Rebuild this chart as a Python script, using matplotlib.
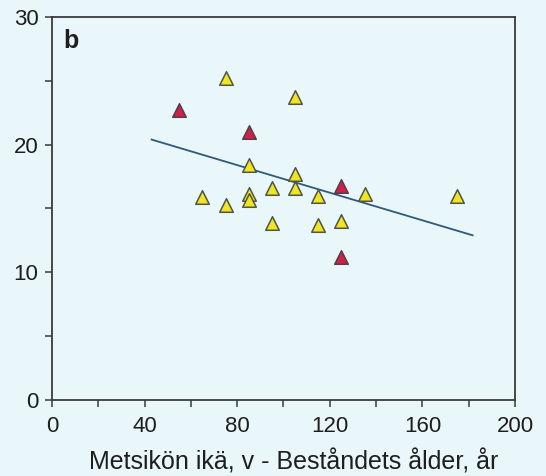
import matplotlib
matplotlib.use("Agg")
from matplotlib import pyplot as plt
import numpy as np

# Metsikön ikä (v) ja arvot, keltaiset kolmiot
ika_kelta = [75, 105, 85, 105, 95, 105, 65, 75, 85, 85, 115, 135, 175, 95, 115, 125]
arvo_kelta = [25.2, 23.7, 18.4, 17.7, 16.6, 16.6, 15.9, 15.3, 16.1, 15.7, 16.0, 16.1, 16.0, 13.9, 13.7, 14.0]

# punaiset kolmiot
ika_puna = [55, 85, 125, 125]
arvo_puna = [22.7, 21.0, 16.8, 11.2]

# Regressiosuora (päätepisteet luettu kuvasta)
suora_x = [43, 181.7]
suora_y = [20.4, 12.9]

x_ticks = [0, 40, 80, 120, 160, 200]
y_ticks = [0, 10, 20, 30]
x_label = "Metsikön ikä, v - Beståndets ålder, år"

tausta = "#e9f6fa"
tumma = "#1e1e1e"
plt.rcParams["font.family"] = ["Liberation Sans", "DejaVu Sans"]

fig = plt.figure(figsize=(5.46, 4.76), dpi=100, facecolor=tausta)
ax = fig.add_axes([0.0952, 0.1597, 0.848, 0.8046], facecolor=tausta)

ax.plot(suora_x, suora_y, color="#2f5a78", lw=1.3, zorder=2)
ax.scatter(ika_kelta, arvo_kelta, marker="^", s=95, c="#f3e422",
           edgecolors="#4d5648", linewidths=1.1, zorder=3)
ax.scatter(ika_puna, arvo_puna, marker="^", s=95, c="#d21f43",
           edgecolors="#4d4050", linewidths=1.1, zorder=4)

ax.set_xlim(0, 200)
ax.set_ylim(0, 30)
ax.set_xticks(np.arange(0, 201, 20), minor=True)
ax.set_yticks(np.arange(0, 31, 5), minor=True)
ax.set_xticks(x_ticks)
ax.set_yticks(y_ticks)
ax.tick_params(which="both", direction="out", length=4.8, width=1.1, color="#3a3a3a",
               labelsize=16, labelcolor=tumma, top=False, right=False)
ax.tick_params(axis="y", which="both", pad=5)
ax.tick_params(axis="x", which="both", pad=7)
for s in ax.spines.values():
    s.set_color("#3a3a3a")
    s.set_linewidth(1.3)

ax.set_xlabel(x_label, fontsize=18, color=tumma)
ax.xaxis.set_label_coords(0.5216, -0.128)
ax.text(0.024, 0.937, "b", transform=ax.transAxes, fontsize=18, fontweight="bold",
        va="center", ha="left", color=tumma)

fig.savefig("out.png", dpi=100, facecolor=tausta)
